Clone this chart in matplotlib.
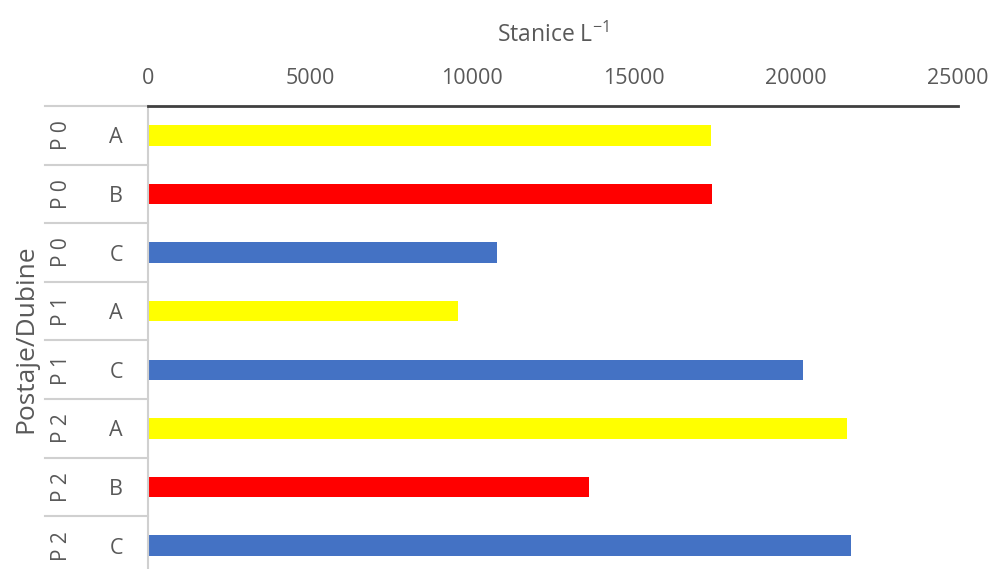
import matplotlib.pyplot as plt
import matplotlib.transforms as mtransforms
from matplotlib.lines import Line2D

postaje = ['P 0', 'P 0', 'P 0', 'P 1', 'P 1', 'P 2', 'P 2', 'P 2']
dubine = ['A', 'B', 'C', 'A', 'C', 'A', 'B', 'C']
stanice = [17380, 17400, 10780, 9570, 20220, 21580, 13610, 21700]
boje = {'A': '#FFFF00', 'B': '#FF0000', 'C': '#4472C4'}
x_ticks = [0, 5000, 10000, 15000, 20000, 25000]

plt.rcParams['font.family'] = ['Open Sans', 'DejaVu Sans']
plt.rcParams['mathtext.default'] = 'regular'
siva = '#595959'

fig = plt.figure(figsize=(9.94, 5.69), dpi=100)
ax = fig.add_axes([0.1489, -0.0105, 0.8149, 0.8243])

y = list(range(len(stanice)))
ax.barh(y, stanice, height=0.35, color=[boje[d] for d in dubine])
ax.set_ylim(len(stanice) - 0.5, -0.5)
ax.set_xlim(0, 25000)

ax.xaxis.tick_top()
ax.set_xticks(x_ticks)
ax.set_xticklabels([str(t) for t in x_ticks], fontsize=15.5, color=siva)
ax.tick_params(axis='x', length=0, pad=12)
ax.set_yticks(y)
ax.set_yticklabels(dubine, fontsize=15.5, color=siva)
ax.tick_params(axis='y', length=0, pad=18)

for s in ['right', 'bottom']:
    ax.spines[s].set_visible(False)
ax.spines['top'].set_color('#404040')
ax.spines['top'].set_linewidth(2)
ax.spines['left'].set_color('#D0D0D0')
ax.spines['left'].set_linewidth(1.5)

ax.set_title('Stanice L$^{-1}$', fontsize=16.5, color=siva, pad=46)

# vanjske oznake postaja i linije izmedju redova
trans = mtransforms.blended_transform_factory(fig.transFigure, ax.transData)
for i, p in enumerate(postaje):
    ax.text(0.062, i, p, transform=trans, rotation=90, ha='center', va='center',
            fontsize=15, color=siva)
for i in range(len(stanice)):
    ax.add_line(Line2D([0.045, 0.1489], [i - 0.5, i - 0.5], transform=trans,
                       color='#D0D0D0', lw=1.5, clip_on=False))

fig.text(0.026, 0.405, 'Postaje/Dubine', rotation=90, ha='center', va='center',
         fontsize=19, color=siva)

fig.savefig('out.png', dpi=100)
